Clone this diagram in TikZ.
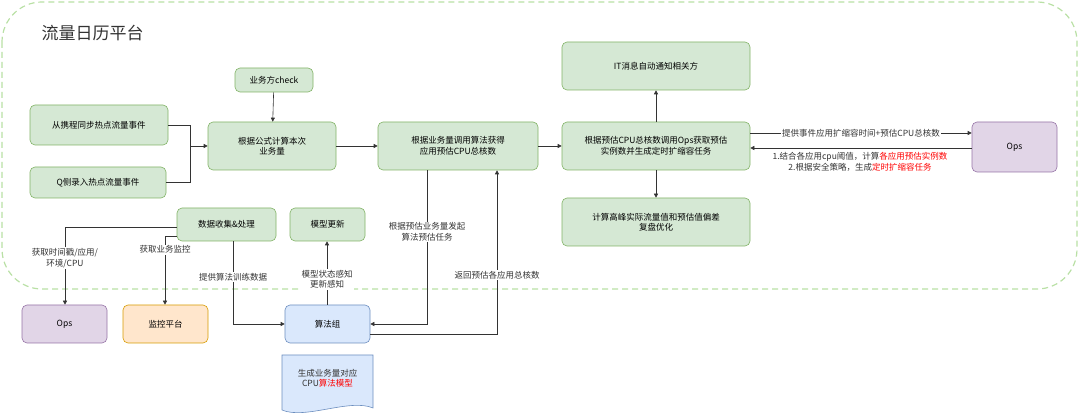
\documentclass[tikz,border=0pt]{standalone}
\usepackage{fontspec}
\setmainfont{Noto Sans CJK SC}
\usetikzlibrary{arrows.meta}
\definecolor{gf}{HTML}{D5E8D4}\definecolor{gd}{HTML}{82B366}
\definecolor{pf}{HTML}{E1D5E7}\definecolor{pd}{HTML}{9673A6}
\definecolor{of}{HTML}{FFE6CC}\definecolor{od}{HTML}{D79B00}
\definecolor{bf}{HTML}{DAE8FC}\definecolor{bd}{HTML}{6C8EBF}
\definecolor{fr}{HTML}{B9E0A5}\definecolor{ln}{HTML}{333333}
\begin{document}
\begin{tikzpicture}[x=1pt,y=-1pt,font=\fontsize{8.5}{10.5}\selectfont,
 box/.style={draw=#1,rounded corners=5pt,line width=0.6pt,align=center,inner sep=0pt},
 lab/.style={fill=white,inner sep=1pt,align=center,text=ln},
 arr/.style={draw=ln,line width=0.6pt,-{Triangle[length=4pt,width=4pt]}}]
\useasboundingbox (0,0) rectangle (1080,419);
\draw[fr,dashed,line width=1.2pt,dash pattern=on 6pt off 4pt,rounded corners=40pt] (2,2) rectangle (1077,289);
\node[anchor=west,font=\fontsize{17}{20}\selectfont,text=ln] (title) at (38,33) {流量日历平台};
\newcommand\bx[7]{\node[box=#6,fill=#7,minimum width=#3pt-#1pt,minimum height=#4pt-#2pt] (#5) at ({(#1+#3)/2},{(#2+#4)/2})}
\bx{30}{105}{168}{145}{a}{gd}{gf}{从携程同步热点流量事件};
\bx{30}{167}{166}{198}{q}{gd}{gf}{Q侧录入热点流量事件};
\bx{235}{68}{313}{92}{chk}{gd}{gf}{业务方check};
\bx{208}{122}{336}{170}{gs}{gd}{gf}{根据公式计算本次\\业务量};
\bx{378}{122}{538}{170}{sf}{gd}{gf}{根据业务量调用算法获得\\应用预估CPU总核数};
\bx{562}{42}{750}{90}{it}{gd}{gf}{IT消息自动通知相关方};
\bx{562}{122}{750}{170}{yg}{gd}{gf}{根据预估CPU总核数调用Ops获取预估\\实例数并生成定时扩缩容任务};
\bx{972}{122}{1057}{172}{ops}{pd}{pf}{Ops};
\bx{562}{198}{750}{246}{gf2}{gd}{gf}{计算高峰实际流量值和预估值偏差\\复盘优化};
\bx{177}{208}{276}{241}{sj}{gd}{gf}{数据收集\&处理};
\bx{290}{208}{365}{241}{mx}{gd}{gf}{模型更新};
\bx{22}{305}{107}{343}{ops2}{pd}{pf}{Ops};
\bx{123}{305}{208}{343}{jk}{od}{of}{监控平台};
\bx{285}{305}{370}{343}{sfz}{bd}{bf}{算法组};
% document
\draw[bd,fill=bf,line width=0.6pt] (282,355) -- (373,355) -- (373,408) .. controls (350,398) and (305,420) .. (282,410) -- cycle;
\node[align=center,text=ln] (doc) at (327.5,378) {生成业务量对应\\CPU\textcolor{red}{算法模型}};
% connectors
\coordinate (j) at (190,146);
\draw[draw=ln,line width=0.6pt] (a.east|-0,125) -- (190,125) -- (j);
\draw[draw=ln,line width=0.6pt] (q.east) -- (190,182.5) -- (j);
\draw[arr] (j) -- (gs.west);
\draw[arr] (chk) -- (gs);
\draw[arr] (gs) -- (sf);
\draw[arr] (sf) -- (yg);
\draw[arr] (yg) -- (it);
\draw[arr] (yg) -- (gf2);
\draw[arr] (yg.east|-0,133) -- node[lab]{提供事件应用扩缩容时间+预估CPU总核数} (ops.west|-0,133);
\draw[arr] (ops.west|-0,148) -- (yg.east|-0,148);
\node[text=ln,align=center,font=\fontsize{8.5}{11}\selectfont] (n2) at (860,162) {1.结合各应用cpu阈值，计算\textcolor{red}{各应用预估实例数}\\2.根据安全策略，生成\textcolor{red}{定时扩缩容任务}};
\draw[arr] (sj.west|-0,227) -- (65,227) -- node[lab,pos=0.4]{获取时间戳/应用/\\环境/CPU} (ops2.north-|65,0);
\draw[arr] (sj.west|-0,236) -- (165,236) -- node[lab,pos=0.2]{获取业务监控} (jk.north-|165,0);
\draw[arr] (sj.south-|233,0) -- node[lab,pos=0.43]{提供算法训练数据} (233,324) -- (sfz.west);
\draw[arr] (sfz.north-|327,0) -- node[lab,pos=0.4]{模型状态感知\\更新感知} (mx.south-|327,0);
\draw[arr] (sf.south-|427,0) -- node[lab,pos=0.4]{根据预估业务量发起\\算法预估任务} (427,324) -- (sfz.east|-0,324);
\draw[arr] (sfz.east|-0,334) -- (497,334) -- node[lab,pos=0.36]{返回预估各应用总核数} (sf.south-|497,0);
\end{tikzpicture}
\end{document}
